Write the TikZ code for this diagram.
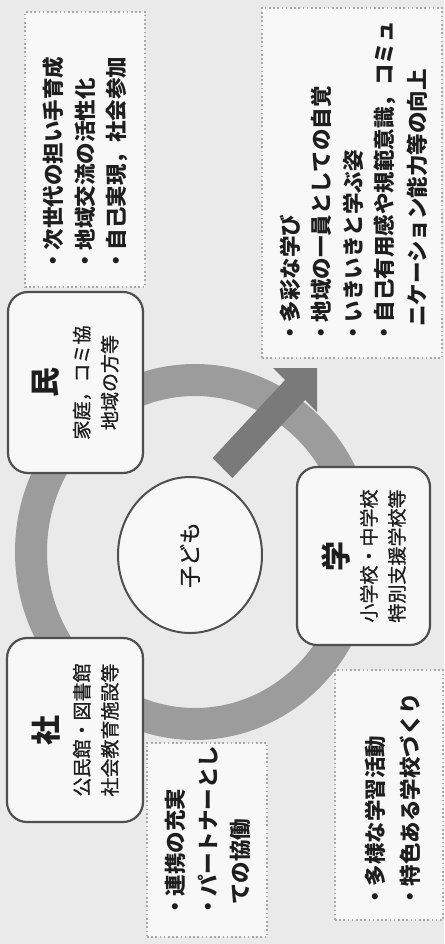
\documentclass[tikz,border=0pt]{standalone}
\usepackage{fontspec}
\setmainfont{Noto Sans CJK JP}
\newfontfamily\jpmed{Noto Sans CJK JP}[FakeBold=1.0]
\usetikzlibrary{shapes.geometric}
\definecolor{bg}{HTML}{EAEAEA}
\definecolor{boxfill}{HTML}{F8F8F8}
\definecolor{ringc}{HTML}{9C9C9C}
\definecolor{arrowc}{HTML}{7A7A7A}
\definecolor{edge}{HTML}{4F4F4F}
\definecolor{dotc}{HTML}{A8A8A8}
\definecolor{ink}{HTML}{1E1E1E}
\begin{document}
\begin{tikzpicture}[x=1pt,y=-1pt,
  sector/.style={draw=edge, line width=2.2pt, fill=boxfill, rounded corners=20pt, rotate=90,
    align=center, text=ink, inner sep=0pt, font=\jpmed\fontsize{19}{28}\selectfont},
  outbox/.style={draw=dotc, line width=1.6pt, dash pattern=on 1.6pt off 2.6pt, fill=boxfill, inner sep=0pt},
  outline/.style={rotate=90, anchor=west, inner sep=0pt, text=ink, font=\fontsize{21.5}{21.5}\selectfont\bfseries},
]
\path[use as bounding box, fill=bg] (0,0) rectangle (444,944);

% ring
\fill[ringc, even odd rule] (195,552) ellipse [x radius=180pt, y radius=188pt]
  (195,552) ellipse [x radius=148pt, y radius=156pt];

% dotted outcome boxes
\node[outbox, minimum width=120pt, minimum height=275pt] (outA) at (85,149.5) {};
\node[outbox, minimum width=180pt, minimum height=350pt] (outB) at (352,183) {};
\node[outbox, minimum width=120pt, minimum height=194pt] (outC) at (207,840) {};
\node[outbox, minimum width=108pt, minimum height=250pt] (outD) at (389,795) {};

\node[outline] (a1) at (53,272) {・次世代の担い手育成};
\node[outline] (a2) at (85,272) {・地域交流の活性化};
\node[outline] (a3) at (117,272) {・自己実現，社会参加};

\node[outline] (b1) at (290,344) {・多彩な学び};
\node[outline] (b2) at (321,344) {・地域の一員としての自覚};
\node[outline] (b3) at (353,344) {・いきいきと学ぶ姿};
\node[outline] (b4) at (385,344) {・自己有用感や規範意識，コミュ};
\node[outline] (b5) at (417,327) {ニケーション能力等の向上};

\node[outline] (c1) at (175,918) {・連携の充実};
\node[outline] (c2) at (208,918) {・パートナーとし};
\node[outline] (c3) at (240,905) {ての協働};

\node[outline] (d1) at (375,908) {・多様な学習活動};
\node[outline] (d2) at (410,908) {・特色ある学校づくり};

% sector boxes
\node[sector, minimum width=181pt, minimum height=135pt] (min) at (75.5,382.5)
  {{\rmfamily\fontsize{30}{30}\selectfont\bfseries 民}\\[4pt]家庭，コミ協\\地域の方等};
\node[sector, minimum width=178pt, minimum height=133pt] (gaku) at (363.5,556)
  {{\rmfamily\fontsize{30}{30}\selectfont\bfseries 学}\\[1pt]小学校・中学校\\特別支援学校等};
\node[sector, minimum width=184pt, minimum height=136pt] (sha) at (75,730)
  {{\rmfamily\fontsize{30}{30}\selectfont\bfseries 社}\\[4pt]公民館・図書館\\社会教育施設等};

% child
\node[ellipse, draw=edge, line width=2pt, fill=boxfill, rotate=90, minimum width=156pt,
  minimum height=144pt, inner sep=0pt, text=ink, font=\jpmed\fontsize{22}{22}\selectfont] (child) at (190,555) {子ども};

% block arrow
\coordinate (tail) at (222.5,468);
\coordinate (tip) at (317,368);
\fill[arrowc] (212.6,458) -- (285,380) -- (273,368) -- (tip) -- (317,412) -- (305,400) -- (232.4,478) -- cycle;
\end{tikzpicture}
\end{document}
